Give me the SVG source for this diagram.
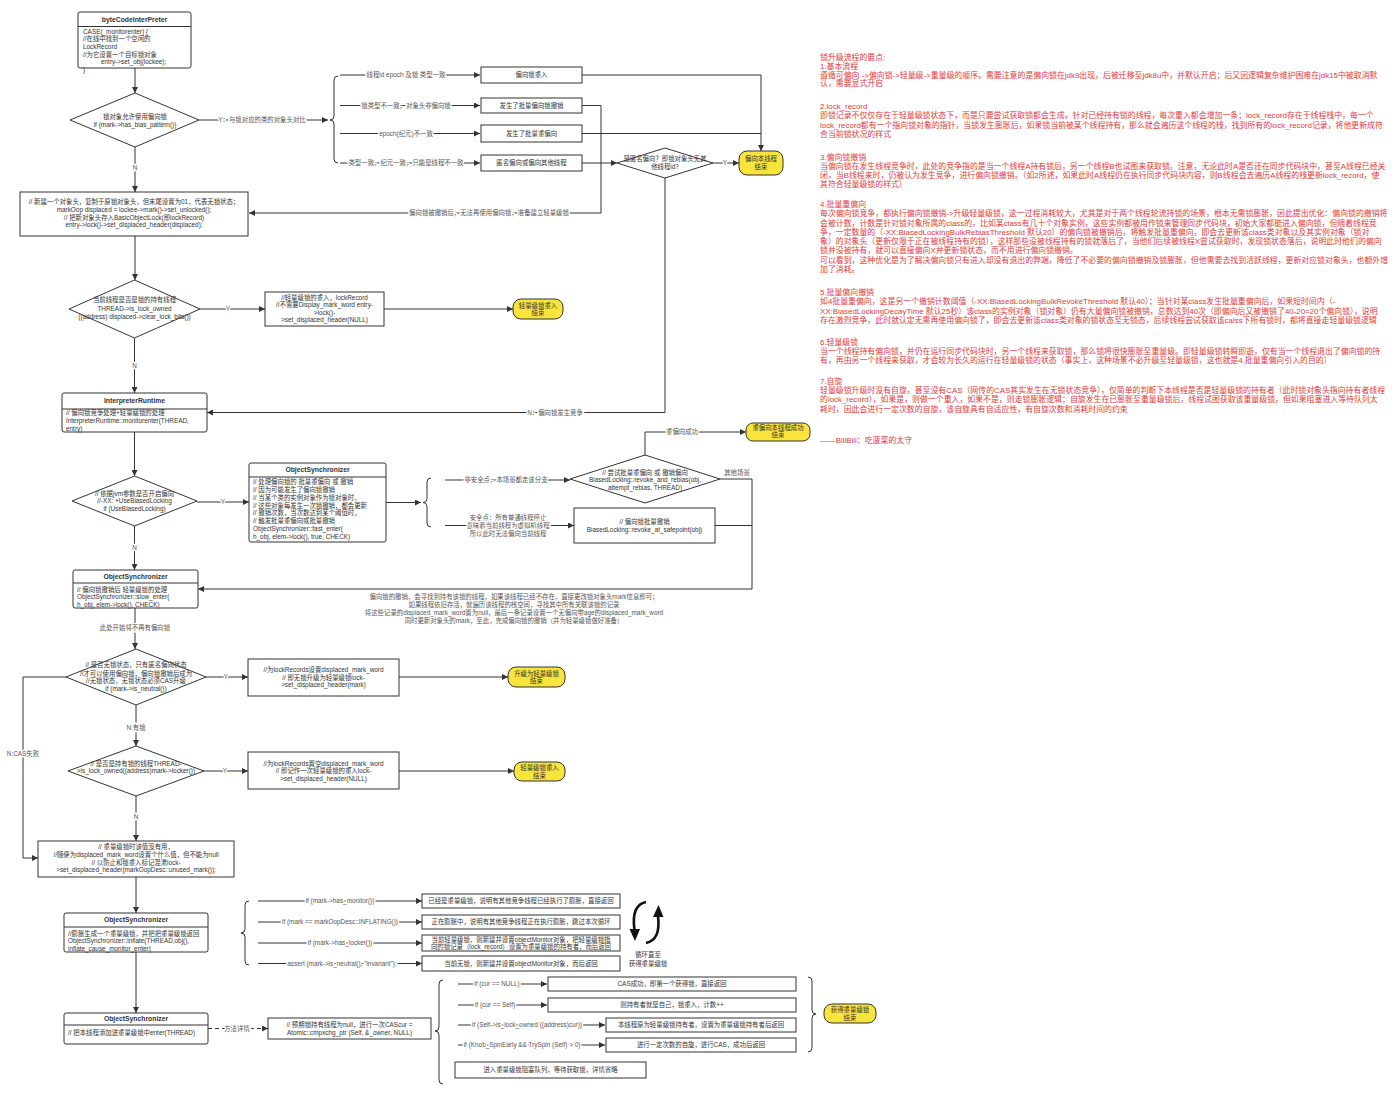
<svg xmlns="http://www.w3.org/2000/svg" width="1400" height="1096" viewBox="0 0 1400 1096">
<defs>
<marker id="ar" viewBox="0 0 10 10" refX="10" refY="5" markerWidth="7" markerHeight="6" markerUnits="userSpaceOnUse" orient="auto"><path d="M0,0 L10,5 L0,10 z" fill="#333"/></marker>
<style>
text{font-family:"Liberation Sans","Noto Sans CJK SC",sans-serif;font-size:6.4px;fill:#333}
.m{text-anchor:middle}
.h{font-weight:bold;font-size:6.8px}
.bx{fill:#fff;stroke:#333;stroke-width:1}
.end{fill:#f8e43a;stroke:#333;stroke-width:1}
.ln{fill:none;stroke:#333;stroke-width:1}
.ar{marker-end:url(#ar)}
.dash{stroke-dasharray:4 3}
.lb{fill:#555;paint-order:stroke;stroke:#fff;stroke-width:3px;stroke-linejoin:round;text-anchor:middle}
.lb2{fill:#555;text-anchor:middle}
.r{fill:#e5393b;font-size:7.9px}
.cy{fill:none;stroke:#111;stroke-width:2.6}
</style>
</defs>
<rect width="1400" height="1096" fill="#fff"/>

<g id="connectors">
<path class="ln ar" d="M135,68 L135,93"/>
<path class="ln ar" d="M199,120 L328,120"/>
<text class="lb" x="262" y="122.3">Y：与锁对应的类的对象头对比</text>
<path class="ln ar" d="M135,147 L135,192"/>
<text class="lb" x="135" y="170.3">N</text>
<path class="ln ar" d="M340,75 L480,75"/>
<text class="lb" x="406" y="77.3">线程id epoch 及锁 类型一致</text>
<path class="ln ar" d="M340,105.5 L480,105.5"/>
<text class="lb" x="406" y="107.8">锁类型不一致，对象头非偏向锁</text>
<path class="ln ar" d="M340,133.5 L480,133.5"/>
<text class="lb" x="406" y="135.8">epoch(纪元)不一致</text>
<path class="ln ar" d="M340,163 L480,163"/>
<text class="lb" x="406" y="165.3">类型一致，纪元一致，只能是线程不一致</text>
<path class="ln ar" d="M582,75 L761,75 L761,151"/>
<path class="ln" d="M582,133.5 L761,133.5"/>
<path class="ln ar" d="M582,105.5 L601,105.5 L601,213 L249,213"/>
<text class="lb" x="489" y="215.3">偏向锁被撤销后，无法再使用偏向锁，准备建立轻量级锁</text>
<path class="ln ar" d="M582,163 L617,163"/>
<path class="ln ar" d="M713,163 L739,163"/>
<text class="lb" x="725" y="165.3">Y</text>
<path class="ln ar" d="M665,178 L665,412.5 L207,412.5"/>
<text class="lb" x="555" y="414.8">N：偏向锁发生竞争</text>
<path class="ln ar" d="M135,236 L135,280"/>
<path class="ln ar" d="M200,309 L265,309"/>
<text class="lb" x="228" y="311.3">Y</text>
<path class="ln ar" d="M384,309 L513,309"/>
<path class="ln ar" d="M134.5,338 L134.5,393"/>
<text class="lb" x="134.5" y="368.3">N</text>
<path class="ln ar" d="M134.5,432 L134.5,476"/>
<path class="ln ar" d="M197,502 L249,502"/>
<text class="lb" x="223" y="504.3">Y</text>
<path class="ln ar" d="M134.5,526 L134.5,570"/>
<text class="lb" x="134.5" y="550.3">N</text>
<path class="ln ar" d="M386,502.5 L421,502.5"/>
<path class="ln ar" d="M445,480 L570,480"/>
<text class="lb" x="506" y="482.3">非安全点，本场景都走该分支</text>
<path class="ln ar" d="M445,525.5 L574,525.5"/>
<text class="lb" x="508" y="520.3">安全点：所有普通线程停止</text>
<text class="lb" x="508" y="528.3">意味着当前线程为虚拟机线程</text>
<text class="lb" x="508" y="536">所以此时无法偏向当前线程</text>
<path class="ln ar" d="M645,455 L645,432 L746,432"/>
<text class="lb" x="682" y="434.3">重偏向成功</text>
<path class="ln ar" d="M720,479 L752,479 L752,589 L198,589"/>
<text class="lb2" x="737" y="475.3">其他场景</text>
<path class="ln" d="M715,525.5 L752,525.5"/>
<text class="lb2" x="514" y="599.3">偏向锁的撤销，会寻找到持有该锁的线程，如果该线程已经不存在，直接更改锁对象头mark信息即可；</text>
<text class="lb2" x="514" y="607.3">如果线程依旧存活，就遍历该线程的栈空间，寻找其中所有关联该锁的记录</text>
<text class="lb2" x="514" y="615.3">将这些记录的displaced_mark_word置为null，最后一条记录设置一个无偏向带age的displaced_mark_word</text>
<text class="lb2" x="514" y="623.3">同时更新对象头的mark，至此，完成偏向锁的撤销（并为轻量级锁做好准备）</text>
<path class="ln ar" d="M135,608 L135,649"/>
<text class="lb" x="135" y="630.3">此处开始将不再有偏向锁</text>
<path class="ln ar" d="M206,677 L248,677"/>
<text class="lb" x="226" y="679.3">Y</text>
<path class="ln ar" d="M399,677 L508,677"/>
<path class="ln ar" d="M136,705 L136,746"/>
<text class="lb" x="136" y="730.3">N:有锁</text>
<path class="ln ar" d="M204,771 L248,771"/>
<text class="lb" x="225" y="773.3">Y</text>
<path class="ln ar" d="M399,771 L514,771"/>
<path class="ln ar" d="M136,796 L136,841"/>
<text class="lb" x="136" y="819.3">N</text>
<path class="ln ar" d="M66,677 L23,677 L23,858 L38,858"/>
<text class="lb" x="23" y="756.3">N:CAS失败</text>
<path class="ln ar" d="M136,877 L136,913"/>
<path class="ln ar" d="M136,952 L136,1013"/>
<path class="ln ar" d="M258,901 L422,901"/>
<text class="lb" x="340" y="903.3">if (mark-&gt;has_monitor())</text>
<path class="ln ar" d="M258,922 L422,922"/>
<text class="lb" x="340" y="924.3">if (mark == markOopDesc::INFLATING())</text>
<path class="ln ar" d="M258,943 L422,943"/>
<text class="lb" x="340" y="945.3">if (mark-&gt;has_locker())</text>
<path class="ln ar" d="M258,963.5 L422,963.5"/>
<text class="lb" x="342" y="965.8">assert (mark-&gt;is_neutral(), "invariant");</text>
<path class="ln ar dash" d="M208,1028.5 L268,1028.5"/>
<text class="lb" x="237" y="1030.8">方法详情</text>
<path class="ln ar" d="M458,984 L547,984"/>
<text class="lb" x="497" y="986.3">if (cur == NULL)</text>
<path class="ln ar" d="M458,1005 L547,1005"/>
<text class="lb" x="495" y="1007.3">if (cur == Self)</text>
<path class="ln ar" d="M458,1025 L605,1025"/>
<text class="lb" x="527" y="1027.3">if (Self-&gt;is_lock_owned ((address)cur))</text>
<path class="ln ar" d="M458,1045 L605,1045"/>
<text class="lb" x="522" y="1047.3">if (Knob_SpinEarly &amp;&amp; TrySpin (Self) &gt; 0)</text>
</g>

<g id="braces">
<path class="ln" d="M338,76 Q334,76 334,80 L334,116 Q334,120 330,120 Q334,120 334,124 L334,159 Q334,163 338,163"/>
<path class="ln" d="M431,478 Q427,478 427,482 L427,498.5 Q427,502.5 423,502.5 Q427,502.5 427,506.5 L427,523 Q427,527 431,527"/>
<path class="ln" d="M249,901 Q245,901 245,905 L245,929 Q245,933 241,933 Q245,933 245,937 L245,961 Q245,965 249,965"/>
<path class="ln" d="M443,980 Q439,980 439,984 L439,1027 Q439,1031 435,1031 Q439,1031 439,1035 L439,1080 Q439,1084 443,1084"/>
<path class="ln" d="M808,977 Q812,977 812,981 L812,1010 Q812,1014 816,1014 Q812,1014 812,1018 L812,1048 Q812,1052 808,1052"/>
</g>

<g id="n-bytecode">
<rect class="bx" x="78" y="12" width="113" height="56" rx="2"/>
<line class="ln" x1="78" y1="26.5" x2="191" y2="26.5"/>
<text class="m h" x="134.5" y="22.3">byteCodeInterPreter</text>
<text x="83" y="33.8">CASE(_monitorenter) {</text>
<text x="83" y="41.4">//在线中找到一个空闲的</text>
<text x="83" y="49">LockRecord</text>
<text x="83" y="56.6">//为它设置一个目标锁对象</text>
<text x="101" y="64.2">entry-&gt;set_obj(lockee);</text>
<text x="83" y="71.8">}</text>
</g>

<g id="n-d1">
<polygon class="bx" points="70,120 135,93 199,120 135,147"/>
<text class="m" x="135" y="119.3">锁对象允许使用偏向锁</text>
<text class="m" x="135" y="126.8">if (mark-&gt;has_bias_pattern())</text>
</g>

<g id="n-b1"><rect class="bx" x="481" y="67" width="101" height="16"/><text class="m" x="531.5" y="77.3">偏向锁重入</text></g>
<g id="n-b2"><rect class="bx" x="481" y="98" width="101" height="15"/><text class="m" x="531.5" y="107.8">发生了批量偏向锁撤销</text></g>
<g id="n-b3"><rect class="bx" x="481" y="125" width="101" height="17"/><text class="m" x="531.5" y="135.8">发生了批量重偏向</text></g>
<g id="n-b4"><rect class="bx" x="481" y="155" width="101" height="16"/><text class="m" x="531.5" y="165.3">匿名偏向或偏向其他线程</text></g>

<g id="n-danon">
<polygon class="bx" points="617,163 665,148 713,163 665,178"/>
<text class="m" x="665" y="161.3">是匿名偏向？即锁对象头无其</text>
<text class="m" x="665" y="169">他线程id?</text>
</g>

<g id="n-end1">
<rect class="end" x="739" y="151" width="44" height="24" rx="8"/>
<text class="m" x="761" y="161">偏向本线程</text>
<text class="m" x="761" y="169">结束</text>
</g>

<g id="n-newhead">
<rect class="bx" x="20" y="192" width="228" height="44"/>
<text class="m" x="134" y="204.3">// 新建一个对象头，复制于原锁对象头，但末尾设置为01，代表无锁状态；</text>
<text class="m" x="134" y="211.9">markOop displaced = lockee-&gt;mark()-&gt;set_unlocked();</text>
<text class="m" x="134" y="219.5">// 把新对象头存入BasicObjectLock(即lockRecord)</text>
<text class="m" x="134" y="227.1">entry-&gt;lock()-&gt;set_displaced_header(displaced);</text>
</g>

<g id="n-d2">
<polygon class="bx" points="69,309 134.5,280 200,309 134.5,338"/>
<text class="m" x="134.5" y="302.3">当前线程是否是锁的持有线程</text>
<text class="m" x="134.5" y="310.8">THREAD-&gt;is_lock_owned</text>
<text class="m" x="134.5" y="319.3">((address) displaced-&gt;clear_lock_bits())</text>
</g>

<g id="n-reentry1">
<rect class="bx" x="265" y="292" width="119" height="34"/>
<text class="m" x="324.5" y="299.6">//轻量级锁的重入，lockRecord</text>
<text class="m" x="324.5" y="307.2">//不需要Display_mark_word entry-</text>
<text class="m" x="324.5" y="314.8">&gt;lock()-</text>
<text class="m" x="324.5" y="322.4">&gt;set_displaced_header(NULL)</text>
</g>

<g id="n-end2">
<rect class="end" x="513" y="299" width="50" height="20" rx="8"/>
<text class="m" x="538" y="307.6">轻量级锁重入</text>
<text class="m" x="538" y="315.2">结束</text>
</g>

<g id="n-ir">
<rect class="bx" x="62" y="393" width="145" height="39" rx="2"/>
<line class="ln" x1="62" y1="409" x2="207" y2="409"/>
<text class="m h" x="134.5" y="403.4">InterpreterRuntime</text>
<text x="66" y="415.3">// 偏向锁竞争处理+轻量级锁的处理</text>
<text x="66" y="423">InterpreterRuntime::monitorenter(THREAD,</text>
<text x="66" y="430.6">entry)</text>
</g>

<g id="n-d3">
<polygon class="bx" points="72,501 134.5,476 197,501 134.5,526"/>
<text class="m" x="134.5" y="495.6">// 依据jvm参数是否开启偏向</text>
<text class="m" x="134.5" y="503.3">//-XX: +UseBiasedLocking</text>
<text class="m" x="134.5" y="510.6">if (UseBiasedLocking)</text>
</g>

<g id="n-fast">
<rect class="bx" x="249" y="463" width="137" height="79" rx="2"/>
<line class="ln" x1="249" y1="477" x2="386" y2="477"/>
<text class="m h" x="317.5" y="472.3">ObjectSynchronizer</text>
<text x="253" y="484">// 处理偏向锁的 批量重偏向 或 撤销</text>
<text x="253" y="491.9">// 因为可能发生了偏向锁撤销</text>
<text x="253" y="499.7">// 当某个类的实例对象作为锁对象时，</text>
<text x="253" y="507.6">// 这些对象每发生一次锁撤销，都会更新</text>
<text x="253" y="515.4">// 撤销次数，当次数达到某个阈值时，</text>
<text x="253" y="523.3">// 触发批量重偏向或批量撤销</text>
<text x="253" y="531.2">ObjectSynchronizer::fast_enter(</text>
<text x="253" y="539">h_obj, elem-&gt;lock(), true, CHECK)</text>
</g>

<g id="n-d4">
<polygon class="bx" points="570,479 645,455 720,479 645,503"/>
<text class="m" x="645" y="474.8">// 尝试批量重偏向 或 撤销偏向</text>
<text class="m" x="645" y="482.3">BiasedLocking::revoke_and_rebias(obj,</text>
<text class="m" x="645" y="489.8">attempt_rebias, THREAD)</text>
</g>

<g id="n-end3">
<rect class="end" x="746" y="423" width="64" height="18" rx="7"/>
<text class="m" x="778" y="429.8">重偏向本线程成功</text>
<text class="m" x="778" y="437">结束</text>
</g>

<g id="n-safepoint">
<rect class="bx" x="574" y="508" width="141" height="35"/>
<text class="m" x="644.5" y="524">// 偏向锁批量撤销</text>
<text class="m" x="644.5" y="531.8">BiasedLocking::revoke_at_safepoint(obj)</text>
</g>

<g id="n-slow">
<rect class="bx" x="73" y="570" width="125" height="38" rx="2"/>
<line class="ln" x1="73" y1="583" x2="198" y2="583"/>
<text class="m h" x="135.5" y="579">ObjectSynchronizer</text>
<text x="77" y="591.6">// 偏向锁撤销后 轻量级锁的处理</text>
<text x="77" y="599">ObjectSynchronizer::slow_enter(</text>
<text x="77" y="606.6">h_obj, elem-&gt;lock(), CHECK)</text>
</g>

<g id="n-d5">
<polygon class="bx" points="66,677 136,649 206,677 136,705"/>
<text class="m" x="136" y="667.3">// 是否无锁状态，只有匿名偏向状态</text>
<text class="m" x="136" y="675.6">//才可以使用偏向锁，偏向锁撤销后成为</text>
<text class="m" x="136" y="683.3">//无锁状态，无锁状态必须CAS升级</text>
<text class="m" x="136" y="691">if (mark-&gt;is_neutral())</text>
</g>

<g id="n-setmark">
<rect class="bx" x="248" y="659" width="151" height="37"/>
<text class="m" x="323.5" y="672.3">//为lockRecords设置displaced_mark_word</text>
<text class="m" x="323.5" y="680">// 即无锁升级为轻量级锁lock-</text>
<text class="m" x="323.5" y="687.3">&gt;set_displaced_header(mark)</text>
</g>

<g id="n-end4">
<rect class="end" x="508" y="667" width="57" height="20" rx="8"/>
<text class="m" x="536.5" y="675.8">升级为轻量级锁</text>
<text class="m" x="536.5" y="683.3">结束</text>
</g>

<g id="n-d6">
<polygon class="bx" points="68,771 136,746 204,771 136,796"/>
<text class="m" x="136" y="765.6">// 是否是持有锁的线程THREAD-</text>
<text class="m" x="136" y="773.3">&gt;is_lock_owned((address)mark-&gt;locker())</text>
</g>

<g id="n-setnull">
<rect class="bx" x="248" y="752" width="151" height="37"/>
<text class="m" x="323.5" y="765.6">//为lockRecords置空displaced_mark_word</text>
<text class="m" x="323.5" y="773.3">// 即记作一次轻量级锁的重入lock-</text>
<text class="m" x="323.5" y="781.3">&gt;set_displaced_header(NULL)</text>
</g>

<g id="n-end5">
<rect class="end" x="514" y="762" width="51" height="19" rx="8"/>
<text class="m" x="539.5" y="770">轻量级锁重入</text>
<text class="m" x="539.5" y="777.5">结束</text>
</g>

<g id="n-heavy">
<rect class="bx" x="38" y="841" width="196" height="36"/>
<text class="m" x="136" y="849.3">// 重量级锁时该值没有用，</text>
<text class="m" x="136" y="857">//随便为displaced_mark_word设置个什么值，但不能为null</text>
<text class="m" x="136" y="864.6">// 以防止和锁重入标记混淆lock-</text>
<text class="m" x="136" y="872.3">&gt;set_displaced_header(markOopDesc::unused_mark());</text>
</g>

<g id="n-inflate">
<rect class="bx" x="64" y="913" width="144" height="39" rx="2"/>
<line class="ln" x1="64" y1="927" x2="208" y2="927"/>
<text class="m h" x="136" y="922.4">ObjectSynchronizer</text>
<text x="68" y="935.6">//膨胀生成一个重量级锁，并把把重量级锁返回</text>
<text x="68" y="943.3">ObjectSynchronizer::inflate(THREAD,obj(),</text>
<text x="68" y="950.6">inflate_cause_monitor_enter)</text>
</g>

<g id="n-i1"><rect class="bx" x="422" y="894" width="198" height="14"/><text class="m" x="521" y="903.3">已经是重量级锁，说明有其他竞争线程已经执行了膨胀，直接返回</text></g>
<g id="n-i2"><rect class="bx" x="422" y="915" width="198" height="14"/><text class="m" x="521" y="924.3">正在膨胀中，说明有其他竞争线程正在执行膨胀，跳过本次循环</text></g>
<g id="n-i3"><rect class="bx" x="422" y="935" width="198" height="16"/><text class="m" x="521" y="941.8">当前轻量级锁，则新建并设置objectMonitor对象，把轻量级锁指</text><text class="m" x="521" y="948.8">向的锁记录（lock_record）设置为重量级锁的持有者，而后返回</text></g>
<g id="n-i4"><rect class="bx" x="422" y="956" width="198" height="15"/><text class="m" x="521" y="965.8">当前无锁，则新建并设置objectMonitor对象，而后返回</text></g>

<g id="n-cycle">
<path class="cy" d="M646,902 Q631,905 634.5,930"/>
<polygon points="629.5,929 640,929 635,941" fill="#111"/>
<path class="cy" d="M646,943 Q661,940 658,916"/>
<polygon points="653,917 663.5,917 658.5,905" fill="#111"/>
<text class="m" x="648" y="957.3">循环直至</text>
<text class="m" x="648" y="966.3">获得重量级锁</text>
</g>

<g id="n-enter">
<rect class="bx" x="64" y="1013" width="144" height="31" rx="2"/>
<line class="ln" x1="64" y1="1025" x2="208" y2="1025"/>
<text class="m h" x="136" y="1021.4">ObjectSynchronizer</text>
<text x="68" y="1035">// 把本线程添加进重量级锁中enter(THREAD)</text>
</g>

<g id="n-cas">
<rect class="bx" x="268" y="1018" width="163" height="21"/>
<text class="m" x="349.5" y="1026.8">// 预期锁持有线程为null，进行一次CAScur =</text>
<text class="m" x="349.5" y="1034.8">Atomic::cmpxchg_ptr (Self, &amp;_owner, NULL)</text>
</g>

<g id="n-e1"><rect class="bx" x="548" y="977" width="248" height="14"/><text class="m" x="672" y="986.3">CAS成功，即第一个获得锁，直接返回</text></g>
<g id="n-e2"><rect class="bx" x="548" y="998" width="248" height="14"/><text class="m" x="672" y="1007.3">则持有者就是自己，锁重入，计数++</text></g>
<g id="n-e3"><rect class="bx" x="606" y="1018" width="190" height="14"/><text class="m" x="701" y="1027.3">本线程原为轻量级锁持有者，设置为重量级锁持有者后返回</text></g>
<g id="n-e4"><rect class="bx" x="606" y="1038" width="190" height="14"/><text class="m" x="701" y="1047.3">进行一定次数的自旋，进行CAS，成功后返回</text></g>
<g id="n-e5"><rect class="bx" x="455" y="1062" width="191" height="16"/><text class="m" x="550.5" y="1072.3">进入重量级锁阻塞队列，等待获取锁，详情省略</text></g>

<g id="n-end6">
<rect class="end" x="824" y="1004" width="52" height="19" rx="8"/>
<text class="m" x="850" y="1012.3">获得重量级锁</text>
<text class="m" x="850" y="1019.8">结束</text>
</g>

<g id="notes">
<text class="r" x="820" y="60.3">锁升级流程的要点:</text>
<text class="r" x="820" y="68.8">1.基本流程</text>
<text class="r" x="820" y="77.6">遵循可偏向 -&gt;偏向锁-&gt;轻量级-&gt;重量级的顺序。需要注意的是偏向锁在jdk9出现，后被迁移至jdk8u中，并默认开启；后又因逻辑复杂维护困难在jdk15中被取消默</text>
<text class="r" x="820" y="86.1">认，需要显式开启</text>
<text class="r" x="820" y="109.1">2.lock_record</text>
<text class="r" x="820" y="118.3">即锁记录不仅仅存在于轻量级锁状态下，而是只要尝试获取锁都会生成，针对已经持有锁的线程，每次重入都会增加一条；lock_record存在于线程栈中，每一个</text>
<text class="r" x="820" y="127.6">lock_record都有一个指向锁对象的指针，当锁发生膨胀后，如果锁当前被某个线程持有，那么就会遍历这个线程的栈，找到所有的lock_record记录，将他更新成符</text>
<text class="r" x="820" y="136.8">合当前锁状况的样式</text>
<text class="r" x="820" y="159.6">3.偏向锁撤销</text>
<text class="r" x="820" y="168.8">当偏向锁在发生线程竞争时，此处的竞争指的是当一个线程A持有锁后，另一个线程B也试图来获取锁。注意，无论此时A是否还在同步代码块中，甚至A线程已经关</text>
<text class="r" x="820" y="178.1">闭，当B线程来时，仍被认为发生竞争，进行偏向锁撤销。（如2所述，如果此时A线程仍在执行同步代码块内容，则B线程会去遍历A线程的栈更新lock_record，使</text>
<text class="r" x="820" y="187.3">其符合轻量级锁的样式）</text>
<text class="r" x="820" y="207.1">4.批量重偏向</text>
<text class="r" x="820" y="216.3">每次偏向锁竞争，都执行偏向锁撤销-&gt;升级轻量级锁，这一过程消耗较大，尤其是对于两个线程轮流持锁的场景，根本无需锁膨胀，因此提出优化：偏向锁的撤销将</text>
<text class="r" x="820" y="225.6">会被计数，计数是针对锁对象所属的class的，比如某class有几十个对象实例，这些实例都被用作锁来管理同步代码块，初始大家都能进入偏向锁，但随着线程竞</text>
<text class="r" x="820" y="234.8">争，一定数量的（-XX:BiasedLockingBulkRebiasThreshold 默认20）的偏向锁被撤销后，将触发批量重偏向，即会去更新该class类对象以及其实例对象（锁对</text>
<text class="r" x="820" y="244.1">象）的对象头（更新仅限于正在被线程持有的锁），这样那些没被线程持有的锁就落后了，当他们后续被线程X尝试获取时，发现锁状态落后，说明此时他们的偏向</text>
<text class="r" x="820" y="253.3">锁并没被持有，就可以直接偏向X并更新锁状态，而不用进行偏向锁撤销。</text>
<text class="r" x="820" y="262.6">可以看到，这种优化是为了解决偏向锁只有进入却没有退出的弊端，降低了不必要的偏向锁撤销及锁膨胀，但他需要去找到活跃线程，更新对应锁对象头，也额外增</text>
<text class="r" x="820" y="271.8">加了消耗。</text>
<text class="r" x="820" y="295.1">5.批量偏向撤销</text>
<text class="r" x="820" y="304.3">如4批量重偏向，这是另一个撤销计数阈值（-XX:BiasedLockingBulkRevokeThreshold 默认40）；当针对某class发生批量重偏向后，如果短时间内（-</text>
<text class="r" x="820" y="313.6">XX:BiasedLockingDecayTime 默认25秒）该class的实例对象（锁对象）仍有大量偏向锁被撤销，总数达到40次（即偏向后又被撤销了40-20=20个偏向锁），说明</text>
<text class="r" x="820" y="322.8">存在激烈竞争，此时就认定无需再使用偏向锁了，即会去更新该class类对象的锁状态至无锁态，后续线程尝试获取该calss下所有锁时，都将直接走轻量级锁逻辑</text>
<text class="r" x="820" y="344.6">6.轻量级锁</text>
<text class="r" x="820" y="353.8">当一个线程持有偏向锁，并仍在运行同步代码块时，另一个线程来获取锁，那么锁将很快膨胀至重量级。即轻量级锁转瞬即逝，仅有当一个线程退出了偏向锁的持</text>
<text class="r" x="820" y="363.1">有，再由另一个线程来获取，才会较为长久的运行在轻量级锁的状态（事实上，这种场景不必升级至轻量级锁，这也就是4.批量重偏向引入的目的）</text>
<text class="r" x="820" y="383.8">7.自旋</text>
<text class="r" x="820" y="393.1">轻量级锁升级时没有自旋，甚至没有CAS（网传的CAS其实发生在无锁状态竞争），仅简单的判断下本线程是否是轻量级锁的持有者（此时锁对象头指向持有者线程</text>
<text class="r" x="820" y="402.3">的lock_record），如果是，则做一个重入，如果不是，则走锁膨胀逻辑；自旋发生在已膨胀至重量级锁后，线程试图获取该重量级锁，但如果阻塞进入等待队列太</text>
<text class="r" x="820" y="411.6">耗时，因此会进行一定次数的自旋，该自旋具有自适应性，有自旋次数和消耗时间的约束</text>
<text class="r" x="820" y="442.8">——BiliBili：吃菠菜的太守</text>
</g>
</svg>
